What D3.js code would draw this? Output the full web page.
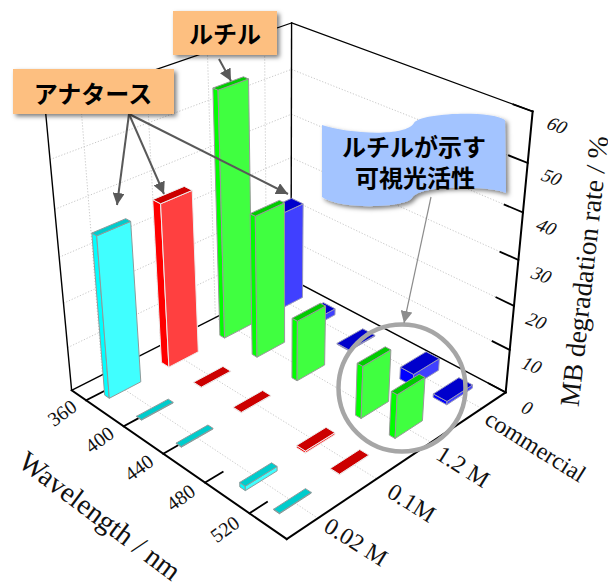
<!DOCTYPE html>
<html>
<head>
<meta charset="utf-8">
<script src="https://cdn.jsdelivr.net/npm/d3@7/dist/d3.min.js"></script>
<style>
html,body{margin:0;padding:0;background:#fff;overflow:hidden}
text{font-family:"Liberation Serif",serif;fill:#111}
.jp{font-family:"Noto Sans CJK JP",sans-serif;font-weight:700;fill:#000}
</style>
</head>
<body>
<div id="chart"></div>
<script>
// data
var wavelengthTicks = [360, 400, 440, 480, 520];
var barWavelengths = [366, 400, 440, 500, 530];
var concentrations = ["0.02 M", "0.1M", "1.2 M", "commercial"];
var rateTicks = [0, 10, 20, 30, 40, 50, 60];
var cyanValues = [36, 0.15, 0.15, 1, 0.15];
var redValues = [37, 0.1, 0.1, 0.5, 0.1];
var greenValues = [55.5, 32.5, 14, 12, 10];
var blueValues = [23, 1.5, 0.2, 2.8, 0.8];
var seriesValues = [cyanValues, redValues, greenValues, blueValues];
var barDepths = [5, 8, 5, 12];
var faceColors = [
    {top: "#00cccc", side: "#00ffff", front: "#40ffff", edge: "#8f9a9a"},
    {top: "#cc0000", side: "#ff0000", front: "#ff4040", edge: "#eeeeee"},
    {top: "#00cc00", side: "#00ff00", front: "#40ff40", edge: "#999999"},
    {top: "#0000cc", side: "#0000ff", front: "#4040ff", edge: "#9999bb"}
];

var width = 608, height = 586;
var svg = d3.select("#chart").append("svg").attr("width", width).attr("height", height);

//---------------------------------------------------------------------
// scales into the unit cube
var uScale = d3.scaleLinear().domain([344, 552]).range([0, 1]);
var vScale = d3.scaleBand().domain(concentrations).range([0, 1]).paddingInner(0).paddingOuter(0);
var vLabelScale = d3.scalePoint().domain(concentrations).range([0.13, 0.84]);
var wScale = d3.scaleLinear().domain([0, 60]).range([0, 1]);

// the box corners as seen in the picture, used to fit a pinhole camera
var cameraAnchors = [
    [0, 0, 0, 72, 391], [1, 0, 0, 286, 539], [1, 1, 0, 506, 392], [0, 1, 0, 291, 279],
    [0, 0, 1, 45.5, 107], [0, 1, 1, 291, 23], [1, 1, 1, 533, 112]
];
var camera = fitCamera(cameraAnchors);

function fitCamera(pts){
    var n = 11, ata = d3.range(n).map(function(){ return d3.range(n + 1).map(function(){ return 0; }); });
    pts.forEach(function(p){
        var rows = [
            [p[0], p[1], p[2], 1, 0, 0, 0, 0, -p[3]*p[0], -p[3]*p[1], -p[3]*p[2], p[3]],
            [0, 0, 0, 0, p[0], p[1], p[2], 1, -p[4]*p[0], -p[4]*p[1], -p[4]*p[2], p[4]]
        ];
        rows.forEach(function(r){
            for (var i=0;i<n;i++)
                for (var j=0;j<=n;j++)
                    ata[i][j] += r[i]*r[j];
        });
    });
    for (var c=0;c<n;c++){
        var best = c;
        for (var r=c+1;r<n;r++) if (Math.abs(ata[r][c]) > Math.abs(ata[best][c])) best = r;
        var t = ata[c]; ata[c] = ata[best]; ata[best] = t;
        for (var k=0;k<n;k++){
            if (k == c) continue;
            var f = ata[k][c]/ata[c][c];
            for (var m=c;m<=n;m++) ata[k][m] -= f*ata[c][m];
        }
    }
    return ata.map(function(row, i){ return row[n]/row[i]; });
}

function project(u, v, w){
    var c = camera, d = c[8]*u + c[9]*v + c[10]*w + 1;
    return [(c[0]*u + c[1]*v + c[2]*w + c[3])/d, (c[4]*u + c[5]*v + c[6]*w + c[7])/d];
}
function polyPoints(list){
    return list.map(function(p){ return project(p[0], p[1], p[2]).join(","); }).join(" ");
}
function line3d(a, b){
    var p = project(a[0], a[1], a[2]), q = project(b[0], b[1], b[2]);
    return svg.append("line").attr("x1", p[0]).attr("y1", p[1]).attr("x2", q[0]).attr("y2", q[1])
        .attr("stroke-linecap", "square");
}

//---------------------------------------------------------------------
var defs = svg.append("defs");
var shadow = defs.append("filter").attr("id", "shade").attr("x", "-10%").attr("y", "-10%").attr("width", "125%").attr("height", "130%");
shadow.append("feDropShadow").attr("dx", 2.5).attr("dy", 2.5).attr("stdDeviation", 2.2).attr("flood-color", "#000").attr("flood-opacity", 0.5);
function marker(id, color, size){
    defs.append("marker").attr("id", id).attr("viewBox", "0 0 10 10").attr("refX", 10).attr("refY", 5)
        .attr("markerUnits", "userSpaceOnUse").attr("markerWidth", size).attr("markerHeight", size).attr("orient", "auto")
        .append("path").attr("d", "M0,0L10,5L0,10Z").attr("fill", color);
}
marker("headDark", "#595959", 12);
marker("headGrey", "#8c8c8c", 12);

//---------------------------------------------------------------------
// dotted grid on walls and floor
function grid(a, b){
    line3d(a, b).attr("stroke", "#c8c8c8").attr("stroke-width", 1).attr("stroke-dasharray", "1.2 1.8").attr("stroke-linecap", "butt");
}
rateTicks.slice(1, -1).forEach(function(r){
    grid([0, 0, wScale(r)], [0, 1, wScale(r)]);
    grid([0, 1, wScale(r)], [1, 1, wScale(r)]);
});
concentrations.forEach(function(c){
    var v = vScale(c) + vScale.bandwidth()/2;
    grid([0, v, 0], [1, v, 0]);
    grid([0, v, 0], [0, v, 1]);
});

//---------------------------------------------------------------------
// box outline and ticks
function axisLine(a, b, sw){
    line3d(a, b).attr("stroke", "#000").attr("stroke-width", sw);
}
axisLine([0,1,0], [0,0,0], 1.4);
axisLine([0,1,0], [1,1,0], 1.4);
axisLine([0,0,0], [0,0,1], 1.4);
axisLine([0,1,0], [0,1,1], 1.4);
axisLine([0,0,1], [0,1,1], 1.2);
axisLine([0,1,1], [1,1,1], 1.2);
axisLine([0,0,0], [1,0,0], 2);
axisLine([1,0,0], [1,1,0], 2);
axisLine([1,1,0], [1,1,1], 2);
wavelengthTicks.forEach(function(l){
    axisLine([uScale(l), 0, 0], [uScale(l), 0.07, 0], 1.8);
});
rateTicks.forEach(function(r){
    axisLine([1, 1, wScale(r)], [0.93, 1, wScale(r)], 1.8);
});

//---------------------------------------------------------------------
// bars, far ones first
var barHalfWidth = 0.065;
var bars = [];
barWavelengths.forEach(function(l, i){
    concentrations.slice().reverse().forEach(function(c){
        var s = concentrations.indexOf(c);
        bars.push({l: l, c: c, s: s, value: seriesValues[s][i]});
    });
});
var barG = svg.selectAll("g.bar").data(bars).enter().append("g").attr("class", "bar");
barG.each(function(d){
    var g = d3.select(this), col = faceColors[d.s];
    var u1 = uScale(d.l + 3), u0 = uScale(d.l + 3 - barDepths[d.s]);
    var mid = vScale(d.c) + vScale.bandwidth()/2, v0 = mid - barHalfWidth, v1 = mid + barHalfWidth;
    var h = wScale(d.value);
    var faces = [
        {pts: [[u0,v0,0],[u1,v0,0],[u1,v0,h],[u0,v0,h]], fill: col.side},
        {pts: [[u1,v0,0],[u1,v1,0],[u1,v1,h],[u1,v0,h]], fill: col.front},
        {pts: [[u0,v0,h],[u1,v0,h],[u1,v1,h],[u0,v1,h]], fill: col.top}
    ];
    g.selectAll("polygon").data(faces).enter().append("polygon")
        .attr("points", function(f){ return polyPoints(f.pts); })
        .attr("fill", function(f){ return f.fill; })
        .attr("stroke", col.edge).attr("stroke-width", 1).attr("stroke-linejoin", "round");
});

//---------------------------------------------------------------------
// tick labels and axis titles
function label(txt, x, y, size, rot, skew){
    return svg.append("text").text(txt).attr("font-size", size).attr("text-anchor", "middle")
        .attr("dominant-baseline", "central")
        .attr("transform", "translate(" + x + "," + y + ") rotate(" + rot + ") skewX(" + (skew || 0) + ")");
}
wavelengthTicks.forEach(function(l){
    var p = project(uScale(l), -0.095, 0);
    label(l, p[0], p[1], 20, -36, 0);
});
concentrations.forEach(function(c){
    var p = project(c == "commercial" ? 1.24 : 1.145, vLabelScale(c), 0);
    label(c, p[0], p[1], 24, 32, 0);
});
rateTicks.forEach(function(r){
    var p = project(1.09, 1, wScale(r) - 0.015);
    label(r, p[0], p[1], 19, 20, -14);
});
label("Wavelength / nm", 100, 516, 28.5, 37, 0);
label("MB degradation rate / %", 584, 271, 27.5, -83.7, 0);

//---------------------------------------------------------------------
// annotations
svg.append("circle").attr("cx", 402).attr("cy", 388).attr("r", 63.5)
    .attr("fill", "none").attr("stroke", "#a6a6a6").attr("stroke-width", 4.5);

var arrowLines = [
    {from: [129, 114], to: [117, 205], head: "headDark", sw: 2},
    {from: [129, 114], to: [164, 194], head: "headDark", sw: 2},
    {from: [129, 114], to: [288, 194], head: "headDark", sw: 2},
    {from: [219, 59], to: [231, 81], head: "headDark", sw: 2},
    {from: [431, 197], to: [404, 323], head: "headGrey", sw: 1.2}
];
svg.selectAll("line.arrow").data(arrowLines).enter().append("line").attr("class", "arrow")
    .attr("x1", function(d){ return d.from[0]; }).attr("y1", function(d){ return d.from[1]; })
    .attr("x2", function(d){ return d.to[0]; }).attr("y2", function(d){ return d.to[1]; })
    .attr("stroke", function(d){ return d.head == "headDark" ? "#595959" : "#8c8c8c"; })
    .attr("stroke-width", function(d){ return d.sw; })
    .attr("marker-end", function(d){ return "url(#" + d.head + ")"; });

svg.append("rect").attr("x", 173).attr("y", 11).attr("width", 104).attr("height", 44)
    .attr("fill", "#fdbf80").attr("filter", "url(#shade)");
svg.append("rect").attr("x", 13).attr("y", 69).attr("width", 161).attr("height", 45)
    .attr("fill", "#fdbf80").attr("filter", "url(#shade)");
svg.append("path").attr("fill", "#a3c4ff").attr("filter", "url(#shade)")
    .attr("d", "M322,125C345,133 405,138 414,123C420,113 490,110 505,120L506,193C490,186 420,184 412,198C405,208 340,210 322,197Z");

svg.append("text").attr("class", "jp").text("ルチル").attr("x", 225).attr("y", 43).attr("font-size", 24).attr("text-anchor", "middle");
svg.append("text").attr("class", "jp").text("アナタース").attr("x", 93).attr("y", 103).attr("font-size", 24).attr("text-anchor", "middle");
var blueNote = svg.append("text").attr("class", "jp").attr("font-size", 24).attr("text-anchor", "middle");
blueNote.append("tspan").text("ルチルが示す").attr("x", 414).attr("y", 156);
blueNote.append("tspan").text("可視光活性").attr("x", 415).attr("y", 187);
</script>
</body>
</html>
